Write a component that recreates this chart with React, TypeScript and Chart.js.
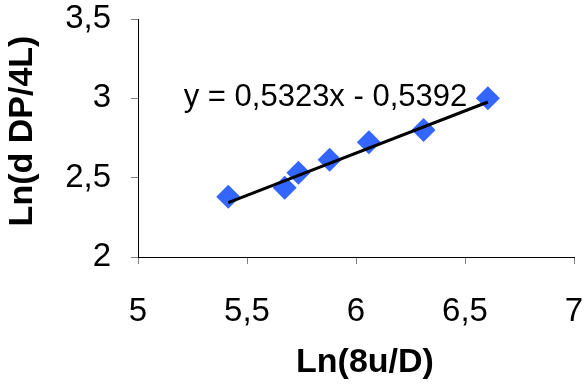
import React, { useEffect, useRef } from "react";
import { Chart, registerables } from "chart.js";

Chart.register(...registerables);

const xValues = [5.414, 5.673, 5.736, 5.879, 6.059, 6.31, 6.605];
const yValues = [2.38, 2.437, 2.531, 2.613, 2.724, 2.8, 3.0];
const trendX = [5.414, 6.605];
const trendY = [2.343, 2.977];
const equationText = "y = 0,5323x - 0,5392";
const equationPos = [5.86, 3.006];
const xTitle = "Ln(8u/D)";
const yTitle = "Ln(d DP/4L)";

const FONT = "'Liberation Sans', Arial, sans-serif";

const fmt = (v: number | string) => String(v).replace(".", ",");

const labelsPlugin = {
  id: "labelsPlugin",
  afterDraw(chart: any) {
    const { ctx, scales } = chart;
    const px = scales.x.getPixelForValue(equationPos[0]);
    const py = scales.y.getPixelForValue(equationPos[1]);
    ctx.save();
    ctx.font = `31px ${FONT}`;
    ctx.fillStyle = "#000";
    ctx.textAlign = "center";
    ctx.textBaseline = "middle";
    ctx.fillText(equationText, px, py);
    ctx.font = `bold 34px ${FONT}`;
    ctx.fillText(xTitle, 365, 363);
    ctx.translate(23, 131);
    ctx.rotate(-Math.PI / 2);
    ctx.fillText(yTitle, 0, 0);
    ctx.restore();
  },
};

export default function App() {
  const ref = useRef<HTMLCanvasElement | null>(null);
  useEffect(() => {
    if (!ref.current) return;
    const chart = new Chart(ref.current, {
      type: "scatter",
      data: {
        datasets: [
          {
            label: "data",
            data: xValues.map((x, i) => ({ x, y: yValues[i] })),
            pointStyle: "rectRot",
            pointRadius: 12,
            pointHoverRadius: 12,
            backgroundColor: "#3366ff",
            borderColor: "#3366ff",
            borderWidth: 0,
            order: 2,
          },
          {
            label: "trend",
            type: "line",
            data: trendX.map((x, i) => ({ x, y: trendY[i] })),
            borderColor: "#000",
            borderWidth: 3,
            pointRadius: 0,
            showLine: true,
            fill: false,
            order: 1,
          } as any,
        ],
      },
      options: {
        animation: false,
        responsive: false,
        maintainAspectRatio: false,
        layout: { padding: { top: 19, right: 9, left: 0, bottom: 0 } },
        plugins: { legend: { display: false }, tooltip: { enabled: false } },
        scales: {
          x: {
            type: "linear",
            min: 5,
            max: 7,
            ticks: {
              stepSize: 0.5,
              callback: (v: any) => fmt(v),
              color: "#000",
              font: { family: FONT, size: 33 },
              padding: 28,
              maxRotation: 0,
            },
            grid: { drawOnChartArea: false, drawTicks: true, tickLength: 7, color: "#808080" },
            border: { color: "#000", width: 1 },
            title: { display: false },
            afterFit: (s: any) => {
              s.height = 132;
              s.paddingLeft = 0;
              s.paddingRight = 0;
            },
          },
          y: {
            type: "linear",
            min: 2,
            max: 3.5,
            ticks: {
              stepSize: 0.5,
              callback: (v: any) => fmt(v),
              color: "#000",
              font: { family: FONT, size: 33 },
              padding: 20,
            },
            grid: { drawOnChartArea: false, drawTicks: true, tickLength: 7, color: "#808080" },
            border: { color: "#000", width: 1 },
            title: { display: false },
            afterFit: (s: any) => {
              s.width = 138;
              s.paddingTop = 0;
              s.paddingBottom = 0;
            },
          },
        },
      },
      plugins: [labelsPlugin],
    });
    return () => chart.destroy();
  }, []);
  return (
    <div style={{ position: "absolute", left: 0, top: 0, width: 586, height: 389, background: "#fff" }}>
      <canvas ref={ref} width={586} height={389} />
    </div>
  );
}
